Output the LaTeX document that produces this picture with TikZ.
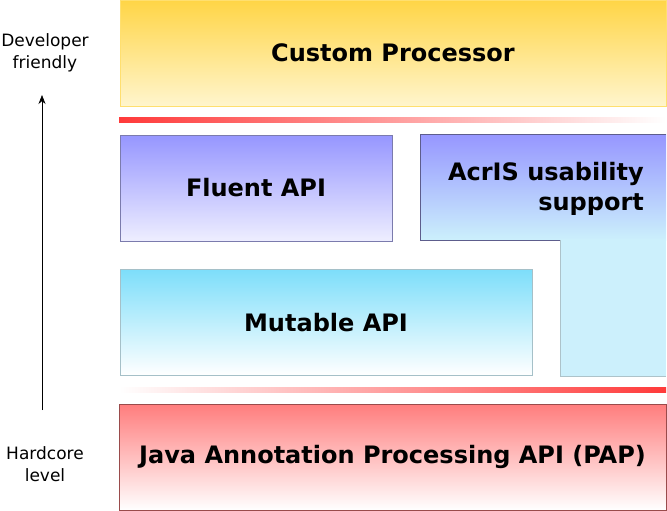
\documentclass[tikz,border=0pt]{standalone}
\usepackage{fontspec}
\setmainfont{DejaVu Sans}
\usetikzlibrary{arrows.meta, positioning}
\definecolor{procYellow}{RGB}{255, 213, 70}
\definecolor{procLight}{RGB}{255, 245, 205}
\definecolor{fluentBlue}{RGB}{150, 150, 255}
\definecolor{fluentLight}{RGB}{238, 238, 255}
\definecolor{acrisCyan}{RGB}{204, 240, 252}
\definecolor{mutableCyan}{RGB}{125, 222, 250}
\definecolor{papRed}{RGB}{255, 125, 125}
\definecolor{barRed}{RGB}{255, 58, 58}

\begin{document}
\begin{tikzpicture}[x=1pt, y=-1pt,
        layer/.style={rectangle, inner sep=0pt, minimum height=106pt, align=center, font=\fontsize{24}{30}\selectfont\bfseries},
        bar/.style={rectangle, inner sep=0pt, minimum width=547pt, minimum height=5pt},
        side/.style={align=center, font=\fontsize{17}{22}\selectfont},
        arrow/.style={-{Stealth[length=9pt, width=7pt]}, semithick, black}
    ]
        \useasboundingbox (0,0) rectangle (667,511);

        % Top layer
        \node[layer, minimum width=546pt, draw=procYellow!70!procLight, top color=procYellow, bottom color=procLight] (proc) at (393,53) {Custom Processor};
        \node[bar, left color=barRed, right color=white] (bartop) at (392.5,119.5) {};

        % Middle layers
        \node[layer, minimum width=272pt, draw=fluentBlue!60!black!80, top color=fluentBlue, bottom color=fluentLight] (fluent) at (256,188) {Fluent API};
        \shade[top color=fluentBlue, bottom color=acrisCyan] (420,134) rectangle (666,240);
        \fill[acrisCyan] (560,239) rectangle (666,376);
        \draw[fluentBlue!50!black!90, line width=0.6pt] (560,240) -- (420,240) -- (420,134) -- (666,134);
        \draw[acrisCyan!60!gray, line width=0.6pt] (560,240) -- (560,376) -- (666,376);
        \node[layer, minimum height=0pt, align=right, anchor=east] (acris) at (644,188.5) {AcrIS usability\\support};
        \node[layer, minimum width=412pt, draw=mutableCyan!40!gray!70, top color=mutableCyan, bottom color=white] (mutable) at (326,322.5) {Mutable API};
        \node[bar, left color=white, right color=barRed] (barlow) at (392.5,389.5) {};

        % Bottom layer
        \node[layer, minimum width=547pt, draw=papRed!60!black, top color=papRed, bottom color=white] (pap) at (392.5,457) {Java Annotation Processing API (PAP)};

        % Side scale
        \node[side] (dev) at (45,53) {Developer\\friendly};
        \node[side] (hard) at (45,464.5) {Hardcore\\level};
        \coordinate (low) at (42,410);
        \coordinate (high) at (42,95);
        \draw[arrow] (low) -- (high);
    \end{tikzpicture}
\end{document}
